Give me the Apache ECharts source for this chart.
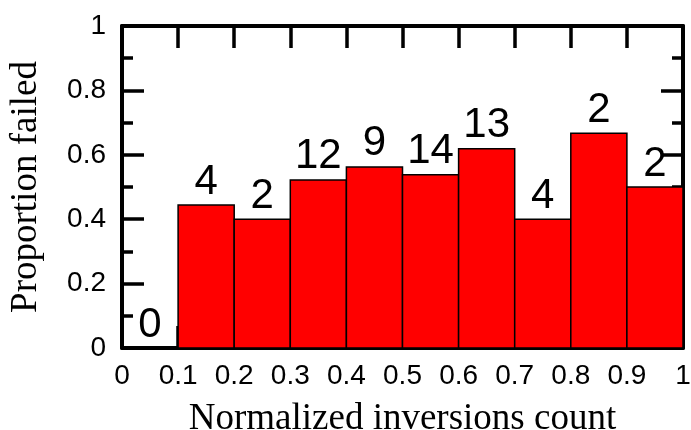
<!DOCTYPE html>
<html>
<head>
<meta charset="utf-8">
<script src="https://cdn.jsdelivr.net/npm/echarts@6/dist/echarts.min.js"></script>
<style>
  html, body { margin: 0; padding: 0; background: #fff; }
  #chart { width: 691px; height: 430px; }
</style>
</head>
<body>
<div id="chart"></div>
<script>
// Histogram bins (normalized inversions count)
var binStarts = [0, 0.1, 0.2, 0.3, 0.4, 0.5, 0.6, 0.7, 0.8, 0.9];
var binEnds   = [0.1, 0.2, 0.3, 0.4, 0.5, 0.6, 0.7, 0.8, 0.9, 1.0];
// Proportion of failed runs in each bin
var proportions = [0, 0.444, 0.40, 0.522, 0.5625, 0.538, 0.619, 0.40, 0.667, 0.50];
// Number of samples in each bin
var counts = [0, 4, 2, 12, 9, 14, 13, 4, 2, 2];

var sans = 'Liberation Sans, Arial, Helvetica, sans-serif';
var serif = 'Liberation Serif, Times New Roman, serif';

var data = binStarts.map(function (s, i) {
  return [s, binEnds[i], proportions[i], counts[i]];
});

var chart = echarts.init(document.getElementById('chart'), null, { renderer: 'canvas' });

var frameLine = { color: '#000', width: 4 };
var tickLine = { color: '#000', width: 3.5 };

chart.setOption({
  animation: false,
  backgroundColor: '#fff',
  grid: { left: 122, right: 8, top: 26, bottom: 82, containLabel: false, outerBoundsMode: 'none' },
  xAxis: [{
    type: 'value', min: 0, max: 1, interval: 0.1, position: 'bottom',
    axisLine: { show: true, onZero: false, lineStyle: frameLine },
    axisTick: { show: true, inside: true, length: 22, lineStyle: tickLine },
    axisLabel: { show: true, color: '#000', fontFamily: sans, fontSize: 28, margin: 14 },
    splitLine: { show: false },
    name: 'Normalized inversions count', nameLocation: 'middle', nameGap: 53,
    nameTextStyle: { color: '#000', fontFamily: serif, fontSize: 37 }
  }, {
    type: 'value', min: 0, max: 1, interval: 0.1, position: 'top',
    axisLine: { show: true, onZero: false, lineStyle: frameLine },
    axisTick: { show: true, inside: true, length: 22, lineStyle: tickLine },
    axisLabel: { show: false },
    splitLine: { show: false }
  }],
  yAxis: [{
    type: 'value', min: 0, max: 1, interval: 0.2, position: 'left',
    axisLine: { show: true, onZero: false, lineStyle: frameLine },
    axisTick: { show: true, inside: true, length: 22, lineStyle: tickLine },
    minorTick: { show: true, splitNumber: 2, length: 11, lineStyle: tickLine },
    axisLabel: { show: true, color: '#000', fontFamily: sans, fontSize: 28, margin: 16 },
    splitLine: { show: false },
    name: 'Proportion failed', nameLocation: 'middle', nameGap: 77, nameRotate: 90,
    nameTextStyle: { color: '#000', fontFamily: serif, fontSize: 37 }
  }, {
    type: 'value', min: 0, max: 1, interval: 0.2, position: 'right',
    axisLine: { show: true, onZero: false, lineStyle: frameLine },
    axisTick: { show: true, inside: true, length: 22, lineStyle: tickLine },
    minorTick: { show: true, splitNumber: 2, length: 11, lineStyle: tickLine },
    axisLabel: { show: false },
    splitLine: { show: false }
  }],
  series: [{
    type: 'custom',
    xAxisIndex: 0, yAxisIndex: 0,
    data: data,
    encode: { x: [0, 1], y: 2 },
    renderItem: function (params, api) {
      var x0 = api.value(0), x1 = api.value(1), v = api.value(2), n = api.value(3);
      var p0 = api.coord([x0, 0]);
      var p1 = api.coord([x1, v]);
      var children = [];
      if (v > 0) {
        children.push({
          type: 'rect',
          shape: { x: p0[0], y: p1[1], width: p1[0] - p0[0], height: p0[1] - p1[1] },
          style: { fill: '#ff0000', stroke: '#000', lineWidth: 1.5 }
        });
      }
      children.push({
        type: 'text',
        style: {
          x: (p0[0] + p1[0]) / 2, y: p1[1] - 2,
          text: String(n),
          align: 'center', verticalAlign: 'bottom',
          fill: '#000', font: '42px ' + sans
        }
      });
      return { type: 'group', children: children };
    }
  }]
});
</script>
</body>
</html>
